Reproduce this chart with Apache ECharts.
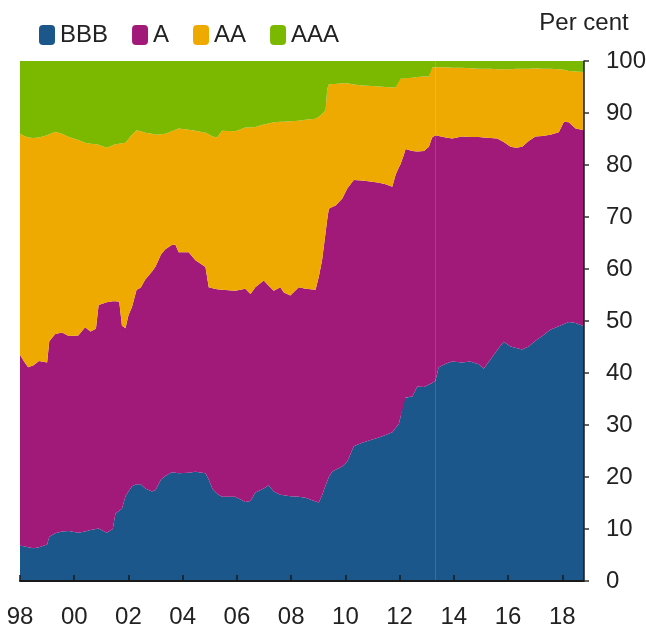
<!DOCTYPE html>
<html>
<head>
<meta charset="utf-8">
<script src="https://cdn.jsdelivr.net/npm/echarts@6/dist/echarts.min.js"></script>
<style>
  html, body { margin: 0; padding: 0; background: #fff; }
  #main { width: 646px; height: 635px; }
</style>
</head>
<body>
<div id="main"></div>
<script>
// shares of the index by credit rating, per cent
const dates = [
  1998.0, 1998.15, 1998.3, 1998.5, 1998.7, 1999.0, 1999.08, 1999.3, 1999.55, 1999.8,
  2000.15, 2000.4, 2000.6, 2000.8, 2000.9, 2001.2, 2001.42, 2001.52, 2001.66, 2001.76,
  2001.89, 2002.0, 2002.13, 2002.3, 2002.45, 2002.62, 2002.87, 2003.0, 2003.2, 2003.36,
  2003.6, 2003.73, 2003.85, 2004.22, 2004.47, 2004.84, 2004.96, 2005.1, 2005.27, 2005.45,
  2005.94, 2006.31, 2006.5, 2006.68, 2006.99, 2007.17, 2007.36, 2007.6, 2007.73, 2007.97,
  2008.28, 2008.53, 2008.9, 2009.02, 2009.14, 2009.27, 2009.33, 2009.39, 2009.51, 2009.64,
  2009.88, 2010.07, 2010.31, 2010.62, 2010.99, 2011.24, 2011.48, 2011.73, 2011.85, 2011.97,
  2012.03, 2012.16, 2012.22, 2012.47, 2012.65, 2012.9, 2013.08, 2013.14, 2013.2, 2013.32,
  2013.44, 2013.7, 2013.94, 2014.3, 2014.6, 2014.92, 2015.1, 2015.35, 2015.6, 2015.84,
  2016.09, 2016.3, 2016.52, 2016.76, 2017.01, 2017.26, 2017.56, 2017.87, 2018.06, 2018.24,
  2018.49, 2018.8
];
const bbb = [
  6.8, 6.7, 6.5, 6.3, 6.5, 7.0, 8.5, 9.2, 9.5, 9.6,
  9.3, 9.5, 9.8, 10.0, 10.1, 9.3, 10.0, 13.0, 13.5, 13.9,
  16.3, 17.2, 18.2, 18.6, 18.6, 17.8, 17.2, 17.5, 19.5, 20.2,
  20.9, 20.8, 20.7, 20.8, 21.0, 20.7, 19.5, 17.7, 16.8, 16.2,
  16.2, 15.2, 15.4, 17.0, 17.8, 18.4, 17.2, 16.6, 16.5, 16.3,
  16.2, 16.0, 15.3, 15.1, 16.5, 18.4, 19.2, 20.0, 21.0, 21.4,
  22.0, 23.0, 25.9, 26.6, 27.2, 27.6, 28.1, 28.6, 29.4, 30.2,
  31.5, 35.2, 35.3, 35.5, 37.4, 37.3, 37.8, 38.0, 38.1, 38.5,
  41.1, 41.8, 42.2, 42.0, 42.2, 41.7, 40.8, 42.6, 44.4, 46.0,
  45.1, 44.8, 44.5, 45.1, 46.2, 47.1, 48.3, 49.0, 49.4, 49.8,
  49.6, 49.0
];
const singleA = [
  36.7, 35.5, 34.6, 35.2, 35.8, 35.0, 37.6, 38.3, 38.3, 37.5,
  37.9, 39.3, 38.2, 38.5, 43.0, 44.3, 43.8, 40.8, 40.2, 35.2,
  32.3, 33.9, 34.5, 37.4, 37.8, 40.2, 42.3, 43.0, 43.3, 43.6,
  43.7, 43.9, 42.5, 42.4, 40.7, 39.7, 37.0, 38.6, 39.3, 39.8,
  39.6, 41.0, 39.8, 39.5, 40.0, 38.4, 38.6, 39.9, 39.0, 38.6,
  40.3, 40.2, 40.7, 43.4, 45.2, 48.6, 50.3, 51.6, 50.9, 50.8,
  51.5, 52.5, 51.2, 50.4, 49.6, 49.0, 48.2, 47.2, 48.7, 49.3,
  48.6, 46.8, 47.8, 47.2, 45.2, 45.4, 45.7, 46.4, 47.2, 47.2,
  44.5, 43.5, 42.9, 43.5, 43.2, 43.7, 44.5, 42.6, 40.7, 38.4,
  38.4, 38.5, 39.0, 39.5, 39.3, 38.5, 37.5, 37.3, 38.9, 38.4,
  37.4, 37.7
];
const doubleA = [
  42.5, 43.4, 44.2, 43.7, 43.0, 43.7, 39.8, 38.9, 38.2, 38.3,
  37.6, 35.5, 36.1, 35.5, 30.8, 29.7, 30.0, 30.2, 30.4, 35.1,
  35.7, 33.9, 33.1, 30.7, 30.1, 28.2, 26.5, 25.3, 23.1, 22.2,
  21.9, 22.1, 23.8, 23.6, 24.9, 25.8, 29.4, 29.2, 29.2, 30.6,
  30.7, 31.0, 32.0, 30.8, 30.0, 31.2, 32.4, 31.8, 32.8, 33.5,
  32.0, 32.5, 32.9, 30.8, 28.1, 23.6, 25.1, 23.9, 23.7, 23.4,
  22.2, 20.2, 18.4, 18.3, 18.4, 18.5, 18.7, 19.1, 16.8, 17.1,
  16.5, 14.7, 13.6, 14.1, 14.3, 14.3, 13.5, 14.2, 13.4, 13.1,
  13.2, 13.5, 13.6, 13.2, 13.2, 13.1, 13.2, 13.3, 13.3, 14.0,
  14.9, 15.2, 15.0, 13.9, 13.1, 12.9, 12.7, 12.1, 10.0, 9.9,
  11.0, 11.2
];
const tripleA = [
  14.0, 14.4, 14.7, 14.8, 14.7, 14.3, 14.1, 13.6, 14.0, 14.6,
  15.2, 15.7, 15.9, 16.0, 16.1, 16.7, 16.2, 16.0, 15.9, 15.8,
  15.7, 15.0, 14.2, 13.3, 13.5, 13.8, 14.0, 14.2, 14.1, 14.0,
  13.5, 13.2, 13.0, 13.2, 13.4, 13.8, 14.1, 14.5, 14.7, 13.4,
  13.5, 12.8, 12.8, 12.7, 12.2, 12.0, 11.8, 11.7, 11.7, 11.6,
  11.5, 11.3, 11.1, 10.7, 10.2, 9.4, 5.4, 4.5, 4.4, 4.4,
  4.3, 4.3, 4.5, 4.7, 4.8, 4.9, 5.0, 5.1, 5.1, 3.4,
  3.4, 3.3, 3.3, 3.2, 3.1, 3.0, 3.0, 1.4, 1.3, 1.2,
  1.2, 1.2, 1.3, 1.3, 1.4, 1.5, 1.5, 1.5, 1.6, 1.6,
  1.6, 1.5, 1.5, 1.5, 1.4, 1.5, 1.5, 1.6, 1.7, 1.9,
  2.0, 2.1
];
const seriesNames = ['BBB', 'A', 'AA', 'AAA'];
const colors = ['#1b578a', '#a11a7a', '#efaa00', '#7bb800'];
const yTicks = [0, 100, 10];
// faint vertical seam visible in the original picture
const seamAt = 2013.33;

const font = "'Liberation Sans', Arial, sans-serif";
const chart = echarts.init(document.getElementById('main'), null, { renderer: 'canvas' });

// value first, date second: the stack has to run on the y dimension
function makeSeries(name, values, idx) {
  const s = {
    name: name,
    type: 'line',
    stack: 'total',
    symbol: 'none',
    encode: { x: 1, y: 0 },
    lineStyle: { width: 0 },
    areaStyle: { color: colors[idx], opacity: 1 },
    itemStyle: { color: colors[idx] },
    data: dates.map((d, i) => [values[i], d])
  };
  if (idx === seriesNames.length - 1) {
    s.markLine = {
      silent: true,
      symbol: 'none',
      label: { show: false },
      lineStyle: { color: 'rgba(255,255,255,0.14)', width: 1, type: 'solid' },
      data: [{ xAxis: seamAt }]
    };
  }
  return s;
}

const option = {
  backgroundColor: '#fff',
  animation: false,
  textStyle: { fontFamily: font },
  legend: {
    data: seriesNames,
    left: 39,
    top: 23,
    padding: 0,
    itemWidth: 16,
    itemHeight: 20,
    itemGap: 24,
    icon: 'roundRect',
    textStyle: { fontSize: 24, color: '#222', fontFamily: font }
  },
  grid: {
    left: 20,
    right: 62,
    top: 61,
    bottom: 54,
    containLabel: false,
    outerBoundsMode: 'none'
  },
  xAxis: {
    type: 'value',
    min: 1998,
    max: 2018.8,
    interval: 2,
    z: 10,
    splitLine: { show: false },
    axisLine: { show: true, onZero: false, lineStyle: { color: '#1a1a1a', width: 2 } },
    axisTick: { show: true, inside: true, length: 6, lineStyle: { color: '#1a1a1a', width: 1.5 } },
    axisLabel: {
      margin: 24,
      fontSize: 24,
      color: '#222',
      fontFamily: font,
      showMaxLabel: false,
      formatter: v => String(Math.round(v) % 100).padStart(2, '0')
    }
  },
  yAxis: {
    type: 'value',
    position: 'right',
    min: yTicks[0],
    max: yTicks[1],
    interval: yTicks[2],
    z: 10,
    name: 'Per cent',
    nameLocation: 'end',
    nameGap: 26,
    nameTextStyle: { fontSize: 24, color: '#222', fontFamily: font, align: 'center' },
    splitLine: { show: false },
    axisLine: { show: true, lineStyle: { color: '#1a1a1a', width: 1.5 } },
    axisTick: { show: true, inside: false, length: 5, lineStyle: { color: '#333', width: 1.5 } },
    axisLabel: { margin: 22, fontSize: 24, color: '#222', fontFamily: font }
  },
  series: seriesNames.map((n, i) => makeSeries(n, [bbb, singleA, doubleA, tripleA][i], i))
};

chart.setOption(option);
</script>
</body>
</html>
